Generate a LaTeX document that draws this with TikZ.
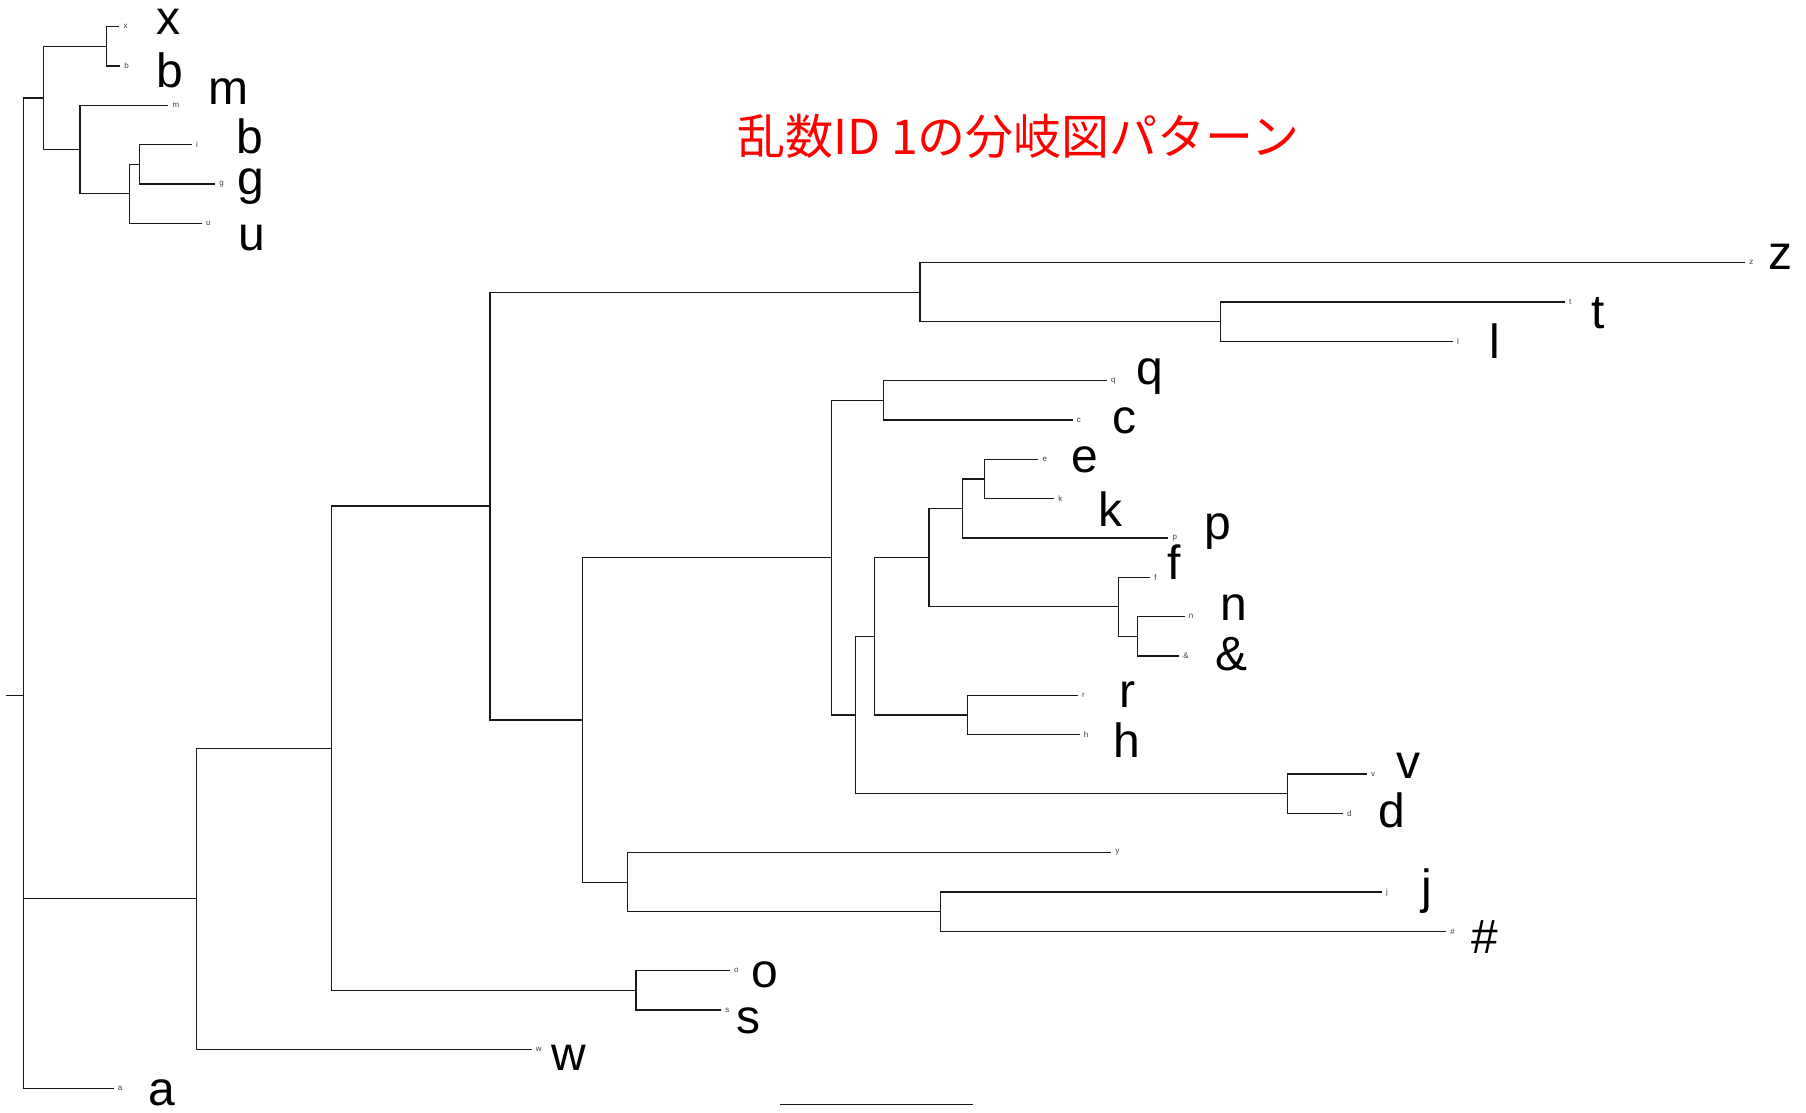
\documentclass[tikz,border=0pt]{standalone}
\usepackage{fontspec}
\setmainfont{Liberation Sans}
\newfontfamily\cjk{Noto Sans CJK JP}
\begin{document}
\begin{tikzpicture}[x=0.5pt,y=-0.5pt,
  branch/.style={draw=black!90,line width=0.6pt},
  tiplab/.style={font=\fontsize{4}{5}\selectfont, text=black!75, anchor=west, inner sep=0pt, xshift=2pt},
  biglab/.style={font=\fontsize{24}{28}\selectfont, anchor=base west, inner sep=0pt},
  titlelab/.style={font=\cjk\fontsize{24}{28}\selectfont, text=red, inner sep=0pt}]
\fill[white] (0,0) rectangle (1806,1113);
\useasboundingbox (0,0) rectangle (1806,1113);

% internal nodes
\coordinate (Nroot) at (23.3,695.1);
\coordinate (stub) at (6,695.1);
\coordinate (Ntop) at (43.7,98.0);
\coordinate (Nxb) at (106.3,46.35);
\coordinate (Nmigu) at (80,149.65);
\coordinate (Nigu) at (129.3,193.9);
\coordinate (Nig) at (139.3,164.35);
\coordinate (NB) at (196.3,898.75);
\coordinate (NC) at (331.4,748.2);
\coordinate (NF) at (490,506.05);
\coordinate (Nztl) at (920,292.2);
\coordinate (Ntl) at (1220.7,321.65);
\coordinate (ND) at (582.4,719.9);
\coordinate (NE) at (831.5,557.7);
\coordinate (Nqc) at (883.4,400.35);
\coordinate (NG) at (855.7,714.98);
\coordinate (NH) at (874.6,636.3);
\coordinate (NI) at (929,557.65);
\coordinate (Nekp) at (962.3,508.5);
\coordinate (Nek) at (984.4,479);
\coordinate (Nfna) at (1118.2,606.8);
\coordinate (Nna) at (1137.7,636.35);
\coordinate (Nrh) at (967.2,714.95);
\coordinate (Nvd) at (1287.7,793.65);
\coordinate (Nyjh) at (627.6,882.1);
\coordinate (Njh) at (940.4,911.65);
\coordinate (Nos) at (636,990.3);

% leaves
\coordinate (Lx) at (119.3,26.7);
\coordinate (Lb) at (120,66.0);
\coordinate (Lm) at (168.3,105.4);
\coordinate (Li) at (191.7,144.7);
\coordinate (Lg) at (215,184.0);
\coordinate (Lu) at (201.7,223.4);
\coordinate (Lz) at (1745,262.7);
\coordinate (Lt) at (1564.8,302.0);
\coordinate (Ll) at (1452.7,341.3);
\coordinate (Lq) at (1106.8,380.7);
\coordinate (Lc) at (1072.5,420.0);
\coordinate (Le) at (1038.3,459.3);
\coordinate (Lk) at (1054,498.7);
\coordinate (Lp) at (1168.3,538.0);
\coordinate (Lf) at (1150,577.3);
\coordinate (Ln) at (1184.5,616.7);
\coordinate (Lamp) at (1179,656.0);
\coordinate (Lr) at (1077.7,695.3);
\coordinate (Lh) at (1079.5,734.6);
\coordinate (Lv) at (1366.7,774.0);
\coordinate (Ld) at (1342.7,813.3);
\coordinate (Ly) at (1111,852.6);
\coordinate (Lj) at (1381.7,892.0);
\coordinate (Lhash) at (1446,931.3);
\coordinate (Lo) at (729.8,970.6);
\coordinate (Ls) at (721,1010.0);
\coordinate (Lw) at (531.5,1049.3);
\coordinate (La) at (113.5,1088.6);

% branches
\draw[branch] (stub) -- (Nroot);
\draw[branch] (Nroot) |- (Ntop);
\draw[branch] (Nroot) |- (NB);
\draw[branch] (Nroot) |- (La);
\draw[branch] (Ntop) |- (Nxb);
\draw[branch] (Ntop) |- (Nmigu);
\draw[branch] (Nxb) |- (Lx);
\draw[branch] (Nxb) |- (Lb);
\draw[branch] (Nmigu) |- (Lm);
\draw[branch] (Nmigu) |- (Nigu);
\draw[branch] (Nigu) |- (Nig);
\draw[branch] (Nigu) |- (Lu);
\draw[branch] (Nig) |- (Li);
\draw[branch] (Nig) |- (Lg);
\draw[branch] (NB) |- (NC);
\draw[branch] (NB) |- (Lw);
\draw[branch] (NC) |- (NF);
\draw[branch] (NC) |- (Nos);
\draw[branch] (Nos) |- (Lo);
\draw[branch] (Nos) |- (Ls);
\draw[branch] (NF) |- (Nztl);
\draw[branch] (NF) |- (ND);
\draw[branch] (Nztl) |- (Lz);
\draw[branch] (Nztl) |- (Ntl);
\draw[branch] (Ntl) |- (Lt);
\draw[branch] (Ntl) |- (Ll);
\draw[branch] (ND) |- (NE);
\draw[branch] (ND) |- (Nyjh);
\draw[branch] (NE) |- (Nqc);
\draw[branch] (NE) |- (NG);
\draw[branch] (Nqc) |- (Lq);
\draw[branch] (Nqc) |- (Lc);
\draw[branch] (NG) |- (NH);
\draw[branch] (NG) |- (Nvd);
\draw[branch] (NH) |- (NI);
\draw[branch] (NH) |- (Nrh);
\draw[branch] (NI) |- (Nekp);
\draw[branch] (NI) |- (Nfna);
\draw[branch] (Nekp) |- (Nek);
\draw[branch] (Nekp) |- (Lp);
\draw[branch] (Nek) |- (Le);
\draw[branch] (Nek) |- (Lk);
\draw[branch] (Nfna) |- (Lf);
\draw[branch] (Nfna) |- (Nna);
\draw[branch] (Nna) |- (Ln);
\draw[branch] (Nna) |- (Lamp);
\draw[branch] (Nrh) |- (Lr);
\draw[branch] (Nrh) |- (Lh);
\draw[branch] (Nvd) |- (Lv);
\draw[branch] (Nvd) |- (Ld);
\draw[branch] (Nyjh) |- (Ly);
\draw[branch] (Nyjh) |- (Njh);
\draw[branch] (Njh) |- (Lj);
\draw[branch] (Njh) |- (Lhash);

% tiny tip labels
\node[tiplab] (tx) at (Lx) {x};
\node[tiplab] (tb) at (Lb) {b};
\node[tiplab] (tm) at (Lm) {m};
\node[tiplab] (ti) at (Li) {i};
\node[tiplab] (tg) at (Lg) {g};
\node[tiplab] (tu) at (Lu) {u};
\node[tiplab] (tz) at (Lz) {z};
\node[tiplab] (tt) at (Lt) {t};
\node[tiplab] (tl) at (Ll) {l};
\node[tiplab] (tq) at (Lq) {q};
\node[tiplab] (tc) at (Lc) {c};
\node[tiplab] (te) at (Le) {e};
\node[tiplab] (tk) at (Lk) {k};
\node[tiplab] (tp) at (Lp) {p};
\node[tiplab] (tf) at (Lf) {f};
\node[tiplab] (tn) at (Ln) {n};
\node[tiplab] (tamp) at (Lamp) {\&};
\node[tiplab] (tr) at (Lr) {r};
\node[tiplab] (th) at (Lh) {h};
\node[tiplab] (tv) at (Lv) {v};
\node[tiplab] (td) at (Ld) {d};
\node[tiplab] (ty) at (Ly) {y};
\node[tiplab] (tj) at (Lj) {j};
\node[tiplab] (thash) at (Lhash) {\#};
\node[tiplab] (to) at (Lo) {o};
\node[tiplab] (ts) at (Ls) {s};
\node[tiplab] (tw) at (Lw) {w};
\node[tiplab] (ta) at (La) {a};

% large labels
\node[biglab] (Bx) at (156,35) {x};
\node[biglab] (Bb1) at (156,88) {b};
\node[biglab] (Bm) at (208,105) {m};
\node[biglab] (Bb2) at (236,154) {b};
\node[biglab] (Bg) at (237,195) {g};
\node[biglab] (Bu) at (238,250) {u};
\node[biglab] (Bz) at (1768,270) {z};
\node[biglab] (Bt) at (1591,328) {t};
\node[biglab] (Bl) at (1489,358) {l};
\node[biglab] (Bq) at (1136,384) {q};
\node[biglab] (Bc) at (1112,433) {c};
\node[biglab] (Be) at (1071,472) {e};
\node[biglab] (Bk) at (1098,526) {k};
\node[biglab] (Bp) at (1204,539) {p};
\node[biglab] (Bf) at (1167,579) {f};
\node[biglab] (Bn) at (1220,620) {n};
\node[biglab] (Bamp) at (1215,670) {\&};
\node[biglab] (Br) at (1119,707) {r};
\node[biglab] (Bh) at (1113,757) {h};
\node[biglab] (Bv) at (1396,778) {v};
\node[biglab] (Bd) at (1378,827) {d};
\node[biglab] (Bj) at (1421,903) {j};
\node[biglab] (Bhash) at (1471,953) {\#};
\node[biglab] (Bo) at (751,987) {o};
\node[biglab] (Bs) at (736,1033) {s};
\node[biglab] (Bw) at (551,1070) {w};
\node[biglab] (Ba) at (148,1105) {a};

% title
\node[titlelab] (title) at (1018.5,136) {乱数ID 1の分岐図パターン};

% scale bar
\coordinate (sbL) at (780,1104.3);
\coordinate (sbR) at (973.3,1104.3);
\draw[branch] (sbL) -- (sbR);
\end{tikzpicture}
\end{document}
